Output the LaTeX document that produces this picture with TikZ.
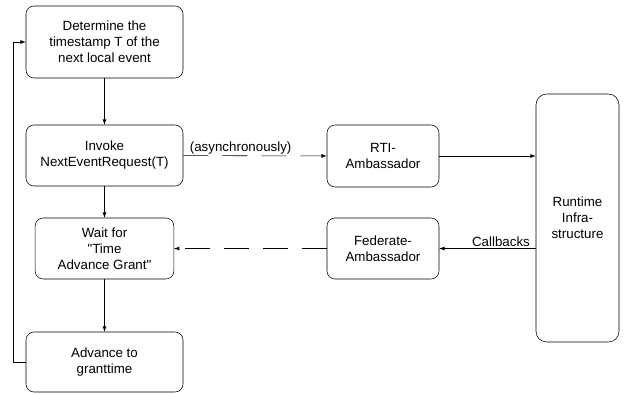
\documentclass[tikz,border=0pt]{standalone}
\usepackage{fontspec}
\setmainfont{Liberation Sans}[Ligatures=TeXOff]
\usetikzlibrary{arrows}

\begin{document}
\begin{tikzpicture}[x=0.75pt, y=-0.75pt, >=latex,
    every node/.style={draw, rounded corners=6pt, align=center, inner sep=1pt},
    lbl/.style={draw=none, rounded corners=0pt},
    async/.style={dash pattern=on 18.75pt off 10.5pt}]
            \useasboundingbox (0,0) rectangle (625,393);
            \node[minimum width=117.75pt, minimum height=54pt] (det) at (104.5,42) {Determine the\\timestamp T of the\\next local event};
            \node[minimum width=117.75pt, minimum height=45.75pt] (invoke) at (104.5,155.5) {Invoke\\NextEventRequest(T)};
            \node[minimum width=104pt, minimum height=45.75pt] (wait) at (104.5,248.5) {Wait for\\"Time\\Advance Grant"};
            \node[minimum width=117.75pt, minimum height=45pt] (adv) at (104.5,362) {Advance to\\granttime};
            \node[minimum width=84pt, minimum height=46.5pt] (rti) at (383,156) {RTI-\\Ambassador};
            \node[minimum width=84pt, minimum height=45.75pt] (fed) at (383,248.5) {Federate-\\Ambassador};
            \node[minimum width=62.25pt, minimum height=186pt, rounded corners=8pt] (rt) at (577.5,218) {Runtime\\Infra-\\structure};

            \draw[->] (det) -- (invoke);
            \draw[->] (invoke) -- (wait);
            \draw[->] (wait) -- (adv);
            %\draw[->] (adv.west) to[out=180, in=180] (det.west);
            \draw[->] (adv.west) -- ++(-12,0) |- (det.west);
            \draw[->, async] (invoke) -- node[lbl, above, pos=0.4] {(asynchronously)} (rti);
            \draw[->] (rti) -- (rti -| rt.west);
            \draw[->] (fed -| rt.west) -- node[lbl, above, pos=0.36] {Callbacks} (fed);
            \draw[->, async] (fed) -- (wait);
\end{tikzpicture}
\end{document}
